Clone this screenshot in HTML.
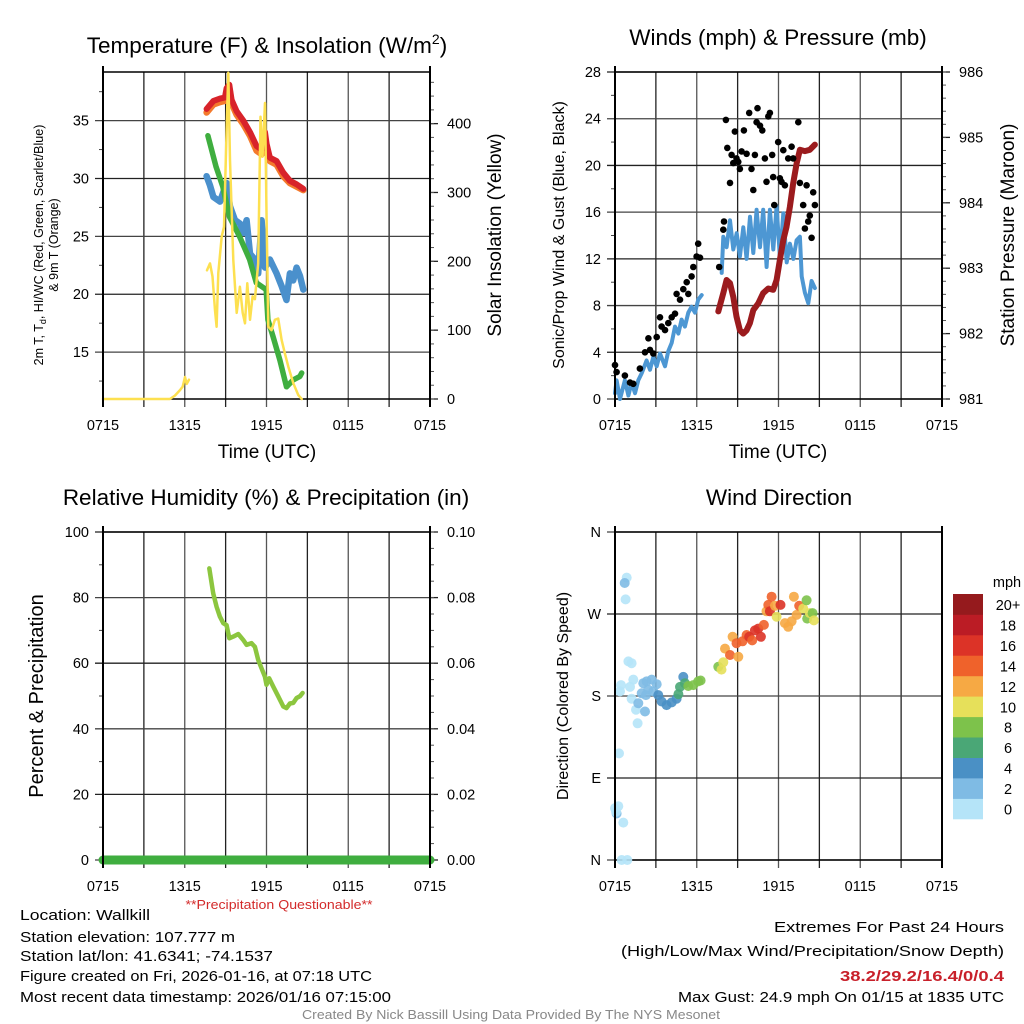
<!DOCTYPE html>
<html><head><meta charset="utf-8"><title>Mesonet Meteogram - Wallkill</title>
<style>
html,body{margin:0;padding:0;background:#fff;}
svg{display:block;font-family:"Liberation Sans",Arial,sans-serif;}
</style></head>
<body>
<svg id="fig" xmlns="http://www.w3.org/2000/svg" width="1024" height="1024" viewBox="0 0 1024 1024">
<rect x="0" y="0" width="1024" height="1024" fill="#fff"/>
</svg>
<script>
// ---------- DATA (hours since 07:15 UTC) ----------
const xTickLabels = ["0715","1315","1915","0115","0715"];
// Temperature panel
const tempTimes = [7.60,8.10,8.59,8.95,9.07,9.27,9.44,9.81,10.30,10.79,11.27,11.64,11.89,12.01,12.25,12.74,13.23,13.72,14.21,14.70];
const tempRed   = [36.0,36.7,36.9,37.0,37.8,38.1,36.8,35.8,35.0,34.0,32.8,32.5,34.0,33.0,31.8,31.5,30.5,29.8,29.5,29.1];
const temp9m    = [35.7,36.4,36.6,36.7,37.5,37.8,36.5,35.5,34.7,33.7,32.4,32.1,33.6,32.6,31.5,31.2,30.2,29.6,29.3,29.0];
const dewTimes  = [7.70,8.30,8.79,9.28,10.02,10.76,11.25,11.98,12.10,12.49,12.98,13.47,13.96,14.45,14.58];
const dewVals   = [33.7,31.0,29.3,26.7,25.0,23.0,21.0,20.4,17.8,16.3,14.3,12.0,12.6,12.9,13.2];
const wcTimes   = [7.60,7.85,8.10,8.59,9.07,9.32,9.69,10.05,10.30,10.54,10.79,11.15,11.39,11.64,11.89,12.25,12.74,13.11,13.47,13.72,13.96,14.21,14.45,14.70];
const wcVals    = [30.2,29.4,28.4,28.0,29.6,27.6,26.4,26.1,25.3,26.4,23.5,23.0,21.8,26.4,22.3,23.0,21.8,20.7,19.5,21.8,21.2,22.3,21.6,20.4];
const solarTimesA = [0,4.91,5.28,5.65,5.85,6.02,6.14,6.31];
const solarValsA  = [0,0,5,13,18,32,22,28];
const solarTimesB = [7.63,7.85,8.04,8.22,8.34,8.46,8.71,8.88,9.07,9.20,9.32,9.56,9.81,10.05,10.25,10.42,10.59,10.79,10.98,11.15,11.39,11.56,11.71,11.89,12.01,12.13,12.37,12.62,12.86,13.11,13.35,13.60,13.97,14.33,14.58];
const solarValsB  = [187,197,178,129,105,183,236,250,391,474,347,202,125,163,125,110,168,115,149,145,197,410,352,430,260,105,100,115,117,86,66,47,23,6,0];
// Wind panel
const windTimesA = [0,0.12,0.37,0.73,0.98,1.22,1.47,1.71,1.96,2.32,2.57,2.81,3.06,3.30,3.67,3.91,4.16,4.40,4.65,4.89,5.13,5.38,5.62,5.87,6.11,6.36];
const windValsA  = [0.5,1.6,0,1.6,0.3,1.4,0.5,1.6,2.2,3.3,2.5,3.6,2.8,3.9,2.8,4.1,4.8,6.2,5.6,6.8,6.2,7.4,7.9,7.4,8.5,8.9];
const windTimesB = [7.83,7.95,8.19,8.44,8.68,8.93,9.17,9.42,9.66,9.91,10.15,10.39,10.64,10.88,11.13,11.37,11.62,11.86,12.11,12.35,12.60,12.84,13.09,13.33,13.57,13.70,13.94,14.19,14.43,14.67];
const windValsB  = [10.8,13.9,13.0,15.3,12.8,14.2,12.2,14.7,12.0,15.6,12.5,16.2,13.0,16.2,11.3,16.2,12.8,16.5,12.0,15.9,11.7,13.3,12.0,13.6,13.9,10.5,9.1,8.2,10.1,9.5];
const gustTimes = [0,0.12,0.73,1.10,1.34,1.83,2.20,2.45,2.57,2.81,3.06,3.30,3.42,3.67,3.91,4.16,4.40,4.52,4.77,5.01,5.26,5.38,5.62,5.75,5.99,6.11,6.24,
 7.65,7.95,8.00,8.14,8.24,8.44,8.56,8.68,8.80,8.92,9.05,9.17,9.29,9.46,9.66,9.85,10.02,10.15,10.27,10.39,10.46,10.64,10.81,11.00,11.12,11.25,11.37,11.54,11.61,11.69,11.98,12.10,12.22,12.35,12.47,12.71,12.96,13.08,13.45,13.57,13.81,13.94,14.06,14.18,14.30,14.43,14.55,14.67];
const gustVals = [2.9,2.3,2.0,1.4,1.3,2.6,4.0,5.2,4.2,3.9,5.3,7.0,6.2,5.9,6.5,7.0,7.3,9.0,8.5,9.4,10.0,9.0,10.5,11.3,12.2,13.3,12.1,
 11.3,14.5,15.2,23.9,21.5,18.5,20.9,20.2,22.9,20.6,20.3,19.7,21.2,23.0,21.0,24.5,19.7,17.9,20.9,23.7,24.9,23.4,23.0,20.6,18.6,24.2,24.5,20.9,19.0,16.6,22.0,18.9,18.6,21.3,18.3,20.6,21.6,20.6,23.7,18.5,16.6,14.6,18.3,15.2,15.7,13.8,17.7,16.6];
const presTimes = [7.58,7.95,8.19,8.44,8.68,8.92,9.17,9.41,9.66,9.90,10.15,10.51,10.88,11.25,11.61,11.86,12.10,12.35,12.59,12.84,13.08,13.33,13.57,13.94,14.30,14.67];
const presVals  = [982.34,982.62,982.82,982.77,982.56,982.26,982.05,982.00,982.05,982.16,982.36,982.46,982.62,982.69,982.67,982.82,983.13,983.43,983.63,983.94,984.30,984.60,984.81,984.79,984.81,984.89];
// RH / precip panel
const rhTimes = [7.80,8.09,8.34,8.58,8.83,9.07,9.27,9.56,9.93,10.29,10.54,10.90,11.15,11.39,11.64,11.88,12.00,12.20,12.49,12.86,13.23,13.47,13.72,13.97,14.21,14.45,14.65];
const rhVals  = [88.9,81.3,77.2,74.2,72.2,71.6,67.6,68.1,68.9,67.1,65.6,66.1,65.0,61.0,58.4,55.9,53.4,55.4,52.9,49.9,46.8,46.3,47.7,47.9,49.4,49.9,50.9];
const precipTimes = [0,24];
const precipVals  = [0,0];
// Wind direction panel
const dirTimes = [0.12,0.07,0.00,0.24,0.61,0.49,0.90,0.29,0.86,0.71,0.78,0.44,0.37,0.98,1.22,1.34,1.10,1.22,1.54,1.71,1.66,2.20,1.96,2.08,2.32,2.69,2.44,2.27,3.06,2.81,3.18,3.42,3.79,4.16,4.52,4.65,4.77,5.01,5.13,5.38,5.75,6.11,6.28,
 7.58,7.82,7.95,8.07,8.44,8.63,8.92,9.05,9.36,9.66,9.85,10.07,10.27,10.51,10.71,10.93,11.12,11.25,11.37,11.49,11.74,11.86,12.15,12.47,12.71,12.96,13.13,13.33,13.52,13.81,14.06,14.11,14.30,14.50,14.60];
const dirVals = [51,53,57,59,41,0,0,117,310,304,286,192,185,218,216,198,190,177,165,172,150,163,183,194,196,198,187,181,193,185,181,174,170,173,177,182,190,201,194,191,192,196,197,
 212,209,217,232,225,245,238,223,240,247,245,241,252,254,245,258,273,280,273,289,279,267,280,260,256,262,289,269,279,276,285,265,271,271,263];
const dirSpeeds = [2,1,0,0,0,0,0,0,0,3,0,0,0,0,0,0,0,0,0,2,0,3,2,2,2,2,2,2,2,3,4,4,4,4,4,6,6,5,6,8,8,8,8,
 8,10,10,12,14,12,14,12,14,14,16,14,16,16,16,14,12,14,16,14,12,10,16,12,12,12,12,12,14,10,8,8,10,8,10];
const cbarLabels = ["0","2","4","6","8","10","12","14","16","18","20+"];
const cbarColors = ["#b5e4f8","#7fbbe4","#4a90c5","#4aa776","#7dc24b","#e6e05a","#f6a944","#ef622b","#dc3327","#bb1c25","#951a1d"];

// ---------- helpers ----------
const NS = "http://www.w3.org/2000/svg";
const svg = document.getElementById("fig");
function mk(tag, attrs, parent){
  const e = document.createElementNS(NS, tag);
  for (const k in attrs) e.setAttribute(k, attrs[k]);
  (parent || svg).appendChild(e);
  return e;
}
function txt(str, x, y, size, anchor, parent, extra){
  const a = {x:x, y:y, "font-size":size, "text-anchor":anchor||"middle", fill:"#000"};
  if (extra) for (const k in extra) a[k] = extra[k];
  const t = mk("text", a, parent);
  t.textContent = str;
  return t;
}

function panel(p){
  const g = mk("g", {});
  
  
  p.g = g;
  p.X = h => p.x0 + h * (p.x1 - p.x0) / 24;
  p.YL = v => p.y1 - (v - p.lmin) * (p.y1 - p.y0) / (p.lmax - p.lmin);
  p.YR = v => p.y1 - (v - p.rmin) * (p.y1 - p.y0) / (p.rmax - p.rmin);
  for (let h = 0; h <= 24; h += 3){
    const x = p.X(h);
    const l = mk("line", {x1:x, y1:p.y0, x2:x, y2:p.y1 + 8, stroke: (h/3)%2 ? "#222" : "#555", "stroke-width": (h===0||h===24) ? 2 : 1.3}, g);
    
    
  }
  for (let i = 0; i < xTickLabels.length; i++){
    const t = txt(xTickLabels[i], p.X(i*6), p.y1 + 31, 14.5, "middle", g);
    
    
  }
  p.lmaj.forEach((v, i) => {
    const y = p.YL(v);
    const l = mk("line", {x1:p.x0 - 8, y1:y, x2:p.x1, y2:y, stroke: i%2 ? "#222" : "#444", "stroke-width":1.3}, g);
    
    
    const t = txt(p.lfmt ? p.lfmt(v, i) : String(v), p.x0 - 14, y + 5, 14.5, "end", g);
    
    
  });
  (p.lmin_ || []).forEach(v => {
    const y = p.YL(v);
    const l = mk("line", {x1:p.x0 - 4, y1:y, x2:p.x0, y2:y, stroke:"#444", "stroke-width":1}, g);
    
    
  });
  const ft = mk("line", {x1:p.x0, y1:p.y0, x2:p.x1, y2:p.y0, stroke:"#000", "stroke-width":1.5}, g);
  
  
  const fb = mk("line", {x1:p.x0, y1:p.y1, x2:p.x1, y2:p.y1, stroke:"#000", "stroke-width":1.5}, g);
  
  
  if (p.rmaj){
    p.rmaj.forEach((v, i) => {
      const y = p.YR(v);
      const l = mk("line", {x1:p.x1, y1:y, x2:p.x1 + 8, y2:y, stroke:"#222", "stroke-width":1.3}, g);
      
      
      const t = txt(p.rfmt ? p.rfmt(v) : String(v), p.x1 + 17, y + 5, 14.5, "start", g);
      
      
    });
    (p.rmin_ || []).forEach(v => {
      const y = p.YR(v);
      const l = mk("line", {x1:p.x1, y1:y, x2:p.x1 + 4, y2:y, stroke:"#555", "stroke-width":1}, g);
      
      
    });
  }
  return p;
}
function range(a, b, s){ const r = []; for (let v = a; v <= b + 1e-9; v += s) r.push(+v.toFixed(4)); return r; }
function path(p, times, vals, yfn, stroke, w, name){
  let d = "";
  times.forEach((t, i) => { d += (i ? "L" : "M") + p.X(t).toFixed(1) + "," + yfn(vals[i]).toFixed(1); });
  const e = mk("path", {d:d, fill:"none", stroke:stroke, "stroke-width":w, "stroke-linejoin":"round", "stroke-linecap":"round"}, p.g);
  
  
  return e;
}

// ---------- Panel 1: temperature ----------
const p1 = panel({name:"temperature-panel", x0:103, x1:430, y0:72, y1:399, lmin:10.95, lmax:39.2, lmaj:[15,20,25,30,35],
  lmin_:range(12.5,37.5,5), rmin:0, rmax:475, rmaj:[0,100,200,300,400], rmin_:range(0,460,20)});
path(p1, tempTimes, temp9m, p1.YL, "#f47a2c", 6.5, "series-9m-temperature");
path(p1, tempTimes, tempRed, p1.YL, "#d8232a", 6, "series-2m-temperature");
path(p1, wcTimes, wcVals, p1.YL, "#4a90cc", 6.5, "series-wind-chill");
path(p1, dewTimes, dewVals, p1.YL, "#3fae3f", 5.5, "series-dewpoint");
path(p1, solarTimesA, solarValsA, p1.YR, "#fde050", 2.5, "series-solar-insolation-early");
path(p1, solarTimesB, solarValsB, p1.YR, "#fde050", 2.5, "series-solar-insolation");
[[103],[430]].forEach(a => { const l = mk("line",{x1:a[0],y1:66,x2:a[0],y2:407,stroke:"#000","stroke-width":2},p1.g);
    });
let t;
t = mk("text", {x:267, y:53, "font-size":22.5, "text-anchor":"middle"}); t.innerHTML = 'Temperature (F) &amp; Insolation (W/m<tspan dy="-9" font-size="14">2</tspan><tspan dy="9">)</tspan>';


t = txt("Time (UTC)", 267, 458, 19, "middle");


t = mk("text", {x:0, y:0, "font-size":12.5, "text-anchor":"middle", transform:"translate(43,245) rotate(-90)"});
t.innerHTML = '2m T, T<tspan dy="3" font-size="9">d</tspan><tspan dy="-3">, HI/WC (Red, Green, Scarlet/Blue)</tspan>';


t = txt("& 9m T (Orange)", 0, 0, 12.5, "middle", svg, {transform:"translate(58,245) rotate(-90)"});


t = txt("Solar Insolation (Yellow)", 0, 0, 19, "middle", svg, {transform:"translate(501,235) rotate(-90)"});



// ---------- Panel 2: winds ----------
const p2 = panel({name:"winds-panel", x0:615, x1:942, y0:72, y1:399, lmin:0, lmax:28, lmaj:range(0,28,4), lmin_:range(2,26,4),
  rmin:981, rmax:986, rmaj:[981,982,983,984,985,986], rmin_:range(981,986,0.2)});
path(p2, windTimesA, windValsA, p2.YL, "#4d97d3", 4, "series-wind-speed-early");
path(p2, windTimesB, windValsB, p2.YL, "#4d97d3", 4, "series-wind-speed");
path(p2, presTimes, presVals, p2.YR, "#9b1b1e", 6, "series-pressure");
gustTimes.forEach((h, i) => {
  const c = mk("circle", {cx:p2.X(h).toFixed(1), cy:p2.YL(gustVals[i]).toFixed(1), r:3.3, fill:"#000"}, p2.g);
  
  
});
[[615],[942]].forEach(a => { const l = mk("line",{x1:a[0],y1:66,x2:a[0],y2:407,stroke:"#000","stroke-width":2},p2.g);
    });
t = txt("Winds (mph) & Pressure (mb)", 778, 45, 22.5, "middle");


t = txt("Time (UTC)", 778, 458, 19, "middle");


t = txt("Sonic/Prop Wind & Gust (Blue, Black)", 0, 0, 16, "middle", svg, {transform:"translate(564,235) rotate(-90)"});


t = txt("Station Pressure (Maroon)", 0, 0, 19, "middle", svg, {transform:"translate(1014,235) rotate(-90)"});



// ---------- Panel 3: RH ----------
const p3 = panel({name:"humidity-panel", x0:103, x1:430, y0:532, y1:860, lmin:0, lmax:100, lmaj:[0,20,40,60,80,100], lmin_:range(10,90,20),
  rmin:0, rmax:0.1, rmaj:[0,0.02,0.04,0.06,0.08,0.1], rfmt:v => v.toFixed(2), rmin_:range(0,0.1,0.005)});
path(p3, precipTimes, precipVals, p3.YR, "#3fae3f", 9, "series-precipitation");
path(p3, rhTimes, rhVals, p3.YL, "#8cc63f", 4.5, "series-relative-humidity");
[[103],[430]].forEach(a => { const l = mk("line",{x1:a[0],y1:526,x2:a[0],y2:868,stroke:"#000","stroke-width":2},p3.g);
    });
t = txt("Relative Humidity (%) & Precipitation (in)", 266, 505, 22.5, "middle");


t = txt("Percent & Precipitation", 0, 0, 20, "middle", svg, {transform:"translate(43,696) rotate(-90)"});


t = txt("**Precipitation Questionable**", 279, 909, 12.5, "middle", svg, {fill:"#d32a2a", textLength:187, lengthAdjust:"spacingAndGlyphs"});



// ---------- Panel 4: wind direction ----------
const p4 = panel({name:"wind-direction-panel", x0:615, x1:942, y0:532, y1:860, lmin:0, lmax:360, lmaj:[0,90,180,270,360],
  lfmt:(v,i) => ["N","E","S","W","N"][i]});
function colorFor(s){ return cbarColors[Math.max(0, Math.min(10, Math.floor(s/2)))]; }
dirTimes.forEach((h, i) => {
  const c = mk("circle", {cx:p4.X(h).toFixed(1), cy:p4.YL(dirVals[i]).toFixed(1), r:5, fill:colorFor(dirSpeeds[i]), "fill-opacity":0.9}, p4.g);
  
  
});
[[615],[942]].forEach(a => { const l = mk("line",{x1:a[0],y1:526,x2:a[0],y2:868,stroke:"#000","stroke-width":2},p4.g);
    });
t = txt("Wind Direction", 779, 505, 22.5, "middle");


t = txt("Direction (Colored By Speed)", 0, 0, 16, "middle", svg, {transform:"translate(568,696) rotate(-90)"});


const cb = mk("g", {});


const cbTop = 594, cbH = 225 / cbarColors.length;
cbarColors.forEach((c, i) => {
  const y = cbTop + (cbarColors.length - 1 - i) * cbH;
  const r = mk("rect", {x:953, y:y.toFixed(1), width:30, height:(cbH + 0.3).toFixed(1), fill:c}, cb);
  
  
  const l = txt(cbarLabels[i], 1008, y + 16, 14.5, "middle", cb);
  
  
});
t = txt("mph", 1007, 587, 14.5, "middle", cb);



// ---------- footer text ----------
const leftLines = [["Location: Wallkill",920,130],["Station elevation: 107.777 m",942,215],["Station lat/lon: 41.6341; -74.1537",961,253],
  ["Figure created on Fri, 2026-01-16, at 07:18 UTC",981,352],["Most recent data timestamp: 2026/01/16 07:15:00",1002,371]];
leftLines.forEach(a => {
  const e = txt(a[0], 20, a[1], 15, "start", svg, {textLength:a[2], lengthAdjust:"spacingAndGlyphs"});
  
  
});
const rightLines = [["Extremes For Past 24 Hours",932,230,"#000","normal"],["(High/Low/Max Wind/Precipitation/Snow Depth)",956,383,"#000","normal"],
  ["38.2/29.2/16.4/0/0.4",981,164,"#c8202a","bold"],["Max Gust: 24.9 mph On 01/15 at 1835 UTC",1002,326,"#000","normal"]];
rightLines.forEach(a => {
  const e = txt(a[0], 1004, a[1], 15, "end", svg, {textLength:a[2], lengthAdjust:"spacingAndGlyphs", fill:a[3], "font-weight":a[4]});
  
  
});
t = txt("Created By Nick Bassill Using Data Provided By The NYS Mesonet", 511, 1019, 12.5, "middle", svg, {fill:"#888", textLength:418, lengthAdjust:"spacingAndGlyphs"});


</script>
</body></html>
